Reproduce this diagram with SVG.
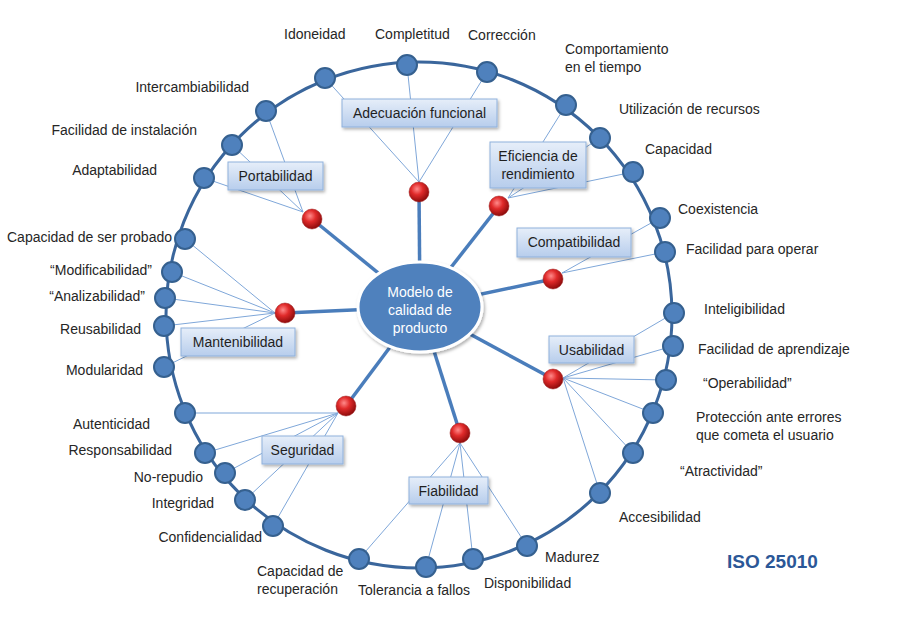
<svg xmlns="http://www.w3.org/2000/svg" width="900" height="626" viewBox="0 0 900 626">
<defs>
<linearGradient id="boxg" x1="0" y1="0" x2="0" y2="1">
<stop offset="0" stop-color="#e6eef9"/>
<stop offset="1" stop-color="#b7cdec"/>
</linearGradient>
<radialGradient id="hubg" cx="0.4" cy="0.35" r="0.65">
<stop offset="0" stop-color="#ff8a8a"/>
<stop offset="0.45" stop-color="#e02a2a"/>
<stop offset="1" stop-color="#8e0c0c"/>
</radialGradient>
<filter id="sh" x="-20%" y="-20%" width="140%" height="160%">
<feDropShadow dx="1.5" dy="2" stdDeviation="1.5" flood-color="#000" flood-opacity="0.3"/>
</filter>
</defs>
<style>
.ring{fill:none;stroke:#3a669c;stroke-width:3}
.thin{stroke:#7fa7d9;stroke-width:1;fill:none}
.thick{stroke:#4a7dbb;stroke-width:3.5;fill:none}
.nd{fill:#4f81bd;stroke:#35608f;stroke-width:2}
.hub{fill:url(#hubg);stroke:#9a1a1a;stroke-width:0.5}
.box{fill:url(#boxg);stroke:#8fb1dc;stroke-width:1;filter:url(#sh)}
.lbl{font-family:"Liberation Sans",Arial,sans-serif;font-size:14px;fill:#262626}
.bl{font-family:"Liberation Sans",Arial,sans-serif;font-size:14px;fill:#1f1f1f;text-anchor:middle}
.ct{font-family:"Liberation Sans",Arial,sans-serif;font-size:14px;fill:#ffffff;text-anchor:middle}
.e{text-anchor:end}
</style>
<rect width="900" height="626" fill="#ffffff"/>
<g id="connectors">
<circle class="ring" cx="419" cy="315" r="253"/>
<!-- Adecuación funcional -->
<line class="thin" x1="325" y1="78" x2="419" y2="182"/>
<line class="thin" x1="407" y1="65" x2="419" y2="182"/>
<line class="thin" x1="487" y1="72" x2="419" y2="182"/>
<!-- Eficiencia -->
<line class="thin" x1="566" y1="105" x2="508" y2="198"/>
<line class="thin" x1="600" y1="138" x2="508" y2="198"/>
<line class="thin" x1="633" y1="172" x2="508" y2="198"/>
<!-- Compatibilidad -->
<line class="thin" x1="660" y1="218" x2="562" y2="273"/>
<line class="thin" x1="665" y1="252" x2="562" y2="273"/>
<!-- Usabilidad -->
<line class="thin" x1="674" y1="313" x2="563" y2="378"/>
<line class="thin" x1="673" y1="346" x2="563" y2="378"/>
<line class="thin" x1="666" y1="380" x2="563" y2="378"/>
<line class="thin" x1="653" y1="413" x2="563" y2="378"/>
<line class="thin" x1="633" y1="453" x2="563" y2="378"/>
<line class="thin" x1="600" y1="493" x2="563" y2="378"/>
<!-- Fiabilidad -->
<line class="thin" x1="527" y1="546" x2="460" y2="443"/>
<line class="thin" x1="473" y1="559" x2="460" y2="443"/>
<line class="thin" x1="426" y1="567" x2="460" y2="443"/>
<line class="thin" x1="359" y1="559" x2="460" y2="443"/>
<!-- Seguridad -->
<line class="thin" x1="185" y1="413" x2="338" y2="413"/>
<line class="thin" x1="205" y1="453" x2="338" y2="413"/>
<line class="thin" x1="225" y1="473" x2="338" y2="413"/>
<line class="thin" x1="245" y1="500" x2="338" y2="413"/>
<line class="thin" x1="273" y1="526" x2="338" y2="413"/>
<!-- Mantenibilidad -->
<line class="thin" x1="185" y1="239" x2="275" y2="313"/>
<line class="thin" x1="172" y1="272" x2="275" y2="313"/>
<line class="thin" x1="165" y1="298" x2="275" y2="313"/>
<line class="thin" x1="164" y1="326" x2="275" y2="313"/>
<line class="thin" x1="164" y1="367" x2="275" y2="313"/>
<!-- Portabilidad -->
<line class="thin" x1="266" y1="111" x2="303" y2="212"/>
<line class="thin" x1="232" y1="145" x2="303" y2="212"/>
<line class="thin" x1="204" y1="178" x2="303" y2="212"/>
<!-- thick hub connectors -->
<line class="thick" x1="420" y1="307" x2="419" y2="192"/>
<line class="thick" x1="420" y1="307" x2="499" y2="206"/>
<line class="thick" x1="420" y1="307" x2="553" y2="279"/>
<line class="thick" x1="420" y1="307" x2="553" y2="379"/>
<line class="thick" x1="420" y1="307" x2="460" y2="433"/>
<line class="thick" x1="420" y1="307" x2="346" y2="406"/>
<line class="thick" x1="420" y1="307" x2="285" y2="313"/>
<line class="thick" x1="420" y1="307" x2="312" y2="219"/>
</g>

<g id="hub-adecuacion">
<rect class="box" x="342" y="99" width="155" height="28"/>
<text class="bl" x="419.5" y="118">Adecuación funcional</text>
<circle class="hub" cx="419" cy="192" r="10"/>
</g>
<g id="hub-eficiencia">
<rect class="box" x="490" y="142" width="96" height="46"/>
<text class="bl" x="538" y="161">Eficiencia de</text>
<text class="bl" x="538" y="179">rendimiento</text>
<circle class="hub" cx="499" cy="206" r="10"/>
</g>
<g id="hub-compatibilidad">
<rect class="box" x="517" y="228" width="114" height="29"/>
<text class="bl" x="574" y="247">Compatibilidad</text>
<circle class="hub" cx="553" cy="279" r="10"/>
</g>
<g id="hub-usabilidad">
<rect class="box" x="549" y="336" width="85" height="27"/>
<text class="bl" x="591.5" y="355">Usabilidad</text>
<circle class="hub" cx="553" cy="379" r="10"/>
</g>
<g id="hub-fiabilidad">
<rect class="box" x="409" y="477" width="79" height="27"/>
<text class="bl" x="448.5" y="496">Fiabilidad</text>
<circle class="hub" cx="460" cy="433" r="10"/>
</g>
<g id="hub-seguridad">
<rect class="box" x="262" y="436" width="81" height="28"/>
<text class="bl" x="302.5" y="455">Seguridad</text>
<circle class="hub" cx="346" cy="406" r="10"/>
</g>
<g id="hub-mantenibilidad">
<rect class="box" x="181" y="328" width="114" height="28"/>
<text class="bl" x="238" y="347">Mantenibilidad</text>
<circle class="hub" cx="285" cy="313" r="10"/>
</g>
<g id="hub-portabilidad">
<rect class="box" x="228" y="162" width="95" height="28"/>
<text class="bl" x="275.5" y="181">Portabilidad</text>
<circle class="hub" cx="312" cy="219" r="10"/>
</g>

<g id="center">
<ellipse cx="420" cy="307" rx="62" ry="45" fill="#4f81bd" stroke="#ffffff" stroke-width="3" filter="url(#sh)"/>
<text class="ct" x="420" y="297">Modelo de</text>
<text class="ct" x="420" y="315">calidad de</text>
<text class="ct" x="420" y="333">producto</text>
</g>

<g id="n-idoneidad"><circle class="nd" cx="325" cy="78" r="10"/><text class="lbl" x="284" y="39">Idoneidad</text></g>
<g id="n-completitud"><circle class="nd" cx="407" cy="65" r="10"/><text class="lbl" x="375" y="39">Completitud</text></g>
<g id="n-correccion"><circle class="nd" cx="487" cy="72" r="10"/><text class="lbl" x="468" y="40">Corrección</text></g>
<g id="n-comportamiento"><circle class="nd" cx="566" cy="105" r="10"/><text class="lbl" x="565" y="54">Comportamiento</text><text class="lbl" x="565" y="72">en el tiempo</text></g>
<g id="n-utilizacion"><circle class="nd" cx="600" cy="138" r="10"/><text class="lbl" x="619" y="114">Utilización de recursos</text></g>
<g id="n-capacidad"><circle class="nd" cx="633" cy="172" r="10"/><text class="lbl" x="645" y="154">Capacidad</text></g>
<g id="n-coexistencia"><circle class="nd" cx="660" cy="218" r="10"/><text class="lbl" x="678" y="214">Coexistencia</text></g>
<g id="n-facilidad-operar"><circle class="nd" cx="665" cy="252" r="10"/><text class="lbl" x="686" y="254">Facilidad para operar</text></g>
<g id="n-inteligibilidad"><circle class="nd" cx="674" cy="313" r="10"/><text class="lbl" x="704" y="314">Inteligibilidad</text></g>
<g id="n-aprendizaje"><circle class="nd" cx="673" cy="346" r="10"/><text class="lbl" x="698" y="354">Facilidad de aprendizaje</text></g>
<g id="n-operabilidad"><circle class="nd" cx="666" cy="380" r="10"/><text class="lbl" x="703" y="388">“Operabilidad”</text></g>
<g id="n-proteccion"><circle class="nd" cx="653" cy="413" r="10"/><text class="lbl" x="696" y="422">Protección ante errores</text><text class="lbl" x="696" y="440">que cometa el usuario</text></g>
<g id="n-atractividad"><circle class="nd" cx="633" cy="453" r="10"/><text class="lbl" x="680" y="476">“Atractividad”</text></g>
<g id="n-accesibilidad"><circle class="nd" cx="600" cy="493" r="10"/><text class="lbl" x="619" y="522">Accesibilidad</text></g>
<g id="n-madurez"><circle class="nd" cx="527" cy="546" r="10"/><text class="lbl" x="545" y="562">Madurez</text></g>
<g id="n-disponibilidad"><circle class="nd" cx="473" cy="559" r="10"/><text class="lbl" x="484" y="588">Disponibilidad</text></g>
<g id="n-tolerancia"><circle class="nd" cx="426" cy="567" r="10"/><text class="lbl" x="358" y="595">Tolerancia a fallos</text></g>
<g id="n-recuperacion"><circle class="nd" cx="359" cy="559" r="10"/><text class="lbl" x="257" y="576">Capacidad de</text><text class="lbl" x="257" y="594">recuperación</text></g>
<g id="n-confidencialidad"><circle class="nd" cx="273" cy="526" r="10"/><text class="lbl e" x="262" y="542">Confidencialidad</text></g>
<g id="n-integridad"><circle class="nd" cx="245" cy="500" r="10"/><text class="lbl e" x="214" y="508">Integridad</text></g>
<g id="n-norepudio"><circle class="nd" cx="225" cy="473" r="10"/><text class="lbl e" x="203" y="482">No-repudio</text></g>
<g id="n-responsabilidad"><circle class="nd" cx="205" cy="453" r="10"/><text class="lbl e" x="172" y="455">Responsabilidad</text></g>
<g id="n-autenticidad"><circle class="nd" cx="185" cy="413" r="10"/><text class="lbl e" x="150" y="429">Autenticidad</text></g>
<g id="n-modularidad"><circle class="nd" cx="164" cy="367" r="10"/><text class="lbl e" x="143" y="375">Modularidad</text></g>
<g id="n-reusabilidad"><circle class="nd" cx="164" cy="326" r="10"/><text class="lbl e" x="141" y="334">Reusabilidad</text></g>
<g id="n-analizabilidad"><circle class="nd" cx="165" cy="298" r="10"/><text class="lbl e" x="145" y="301">“Analizabilidad”</text></g>
<g id="n-modificabilidad"><circle class="nd" cx="172" cy="272" r="10"/><text class="lbl e" x="152" y="275">“Modificabilidad”</text></g>
<g id="n-probado"><circle class="nd" cx="185" cy="239" r="10"/><text class="lbl e" x="172" y="242">Capacidad de ser probado</text></g>
<g id="n-adaptabilidad"><circle class="nd" cx="204" cy="178" r="10"/><text class="lbl e" x="157" y="175">Adaptabilidad</text></g>
<g id="n-instalacion"><circle class="nd" cx="232" cy="145" r="10"/><text class="lbl e" x="197" y="135">Facilidad de instalación</text></g>
<g id="n-intercambiabilidad"><circle class="nd" cx="266" cy="111" r="10"/><text class="lbl e" x="249" y="92">Intercambiabilidad</text></g>

<text x="727" y="568" font-family="Liberation Sans, Arial, sans-serif" font-size="19" font-weight="bold" fill="#2b5797">ISO 25010</text>
</svg>
